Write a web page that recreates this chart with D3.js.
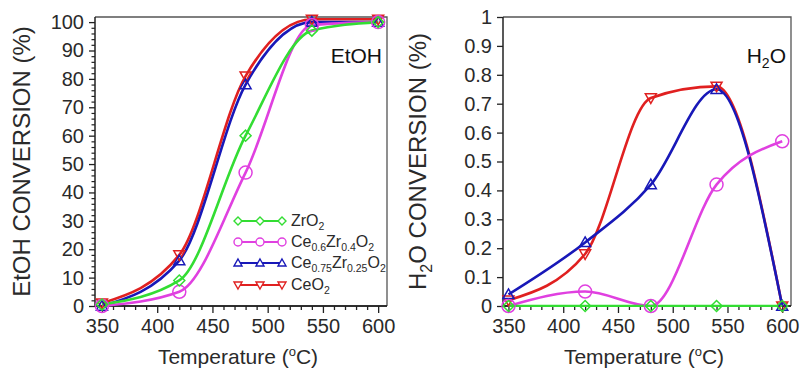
<!DOCTYPE html>
<html>
<head>
<meta charset="utf-8">
<script src="https://cdn.jsdelivr.net/npm/d3@7"></script>
<style>
  html, body { margin: 0; padding: 0; background: #fff; }
  svg { display: block; font-family: "Liberation Sans", Arial, sans-serif; }
</style>
</head>
<body>
<svg id="chart" width="800" height="370"></svg>
<script>
// ---------------- DATA ----------------
const temperatures = [350, 420, 480, 540, 600];
const seriesKeys = ["ZrO2", "Ce0.6Zr0.4O2", "Ce0.75Zr0.25O2", "CeO2"];

// EtOH conversion (%)
const etohZrO2       = [0.5, 9, 60, 97, 100];
const etohCe06Zr04   = [0, 5, 47, 99, 100];
const etohCe075Zr025 = [0, 16, 78, 100, 100];
const etohCeO2       = [1, 18, 81, 101, 101];

// H2O conversion (%)
const h2oZrO2       = [0, 0, 0, 0, 0];
const h2oCe06Zr04   = [0, 0.05, 0, 0.42, 0.57];
const h2oCe075Zr025 = [0.04, 0.22, 0.42, 0.75, 0];
const h2oCeO2       = [0.02, 0.18, 0.72, 0.76, 0];

const xTicks = [350, 400, 450, 500, 550, 600];
const etohTicks = [0, 10, 20, 30, 40, 50, 60, 70, 80, 90, 100];
const h2oTicks = [0, 0.1, 0.2, 0.3, 0.4, 0.5, 0.6, 0.7, 0.8, 0.9, 1];
const h2oTickLabels = ["0", "0.1", "0.2", "0.3", "0.4", "0.5", "0.6", "0.7", "0.8", "0.9", "1"];

// legend labels: [text, isSubscript]
const legendLabels = [
  [["ZrO", false], ["2", true]],
  [["Ce", false], ["0.6", true], ["Zr", false], ["0.4", true], ["O", false], ["2", true]],
  [["Ce", false], ["0.75", true], ["Zr", false], ["0.25", true], ["O", false], ["2", true]],
  [["CeO", false], ["2", true]]
];

// ---------------- STYLE ----------------
const colors = { "ZrO2": "#33dd33", "Ce0.6Zr0.4O2": "#e040e0", "Ce0.75Zr0.25O2": "#1818b8", "CeO2": "#e02020" };
const symbols = { "ZrO2": "diamond", "Ce0.6Zr0.4O2": "circle", "Ce0.75Zr0.25O2": "tri-up", "CeO2": "tri-down" };
const textColor = "#2a2a2a";

const svg = d3.select("#chart");
svg.append("rect").attr("width", 800).attr("height", 370).attr("fill", "#fff");

function circlePath(r) {
  return `M${-r},0A${r},${r} 0 1,0 ${r},0A${r},${r} 0 1,0 ${-r},0Z`;
}
function symbolPath(type, s) {
  const h = s / 2;
  switch (type) {
    case "diamond": return `M0,${-h}L${h},0L0,${h}L${-h},0Z`;
    case "circle": return circlePath(h);
    case "tri-up": return `M0,${-h}L${h},${h * 0.75}L${-h},${h * 0.75}Z`;
    case "tri-down": return `M0,${h}L${h},${-h * 0.75}L${-h},${-h * 0.75}Z`;
  }
}

function drawPanel(cfg) {
  const { x0, x1, y0, y1, xDomain, yDomain, data, yTicks, yLabels, yMinor, title, label, clipId } = cfg;
  const x = d3.scaleLinear().domain(xDomain).range([x0, x1]);
  const y = d3.scaleLinear().domain(yDomain).range([y1, y0]);
  const g = svg.append("g");

  g.append("clipPath").attr("id", clipId)
    .append("rect").attr("x", x0).attr("y", y0 - 1).attr("width", x1 - x0).attr("height", y1 - y0 + 2);

  // frame top / right
  g.append("path")
    .attr("d", `M${x0},${y0}L${x1},${y0}L${x1},${y1}`)
    .attr("fill", "none").attr("stroke", "#555").attr("stroke-width", 1.3);

  // x axis
  const xMinor = d3.range(350, 601, 10).filter(v => v % 50 !== 0);
  const xAxisMinor = d3.axisBottom(x).tickValues(xMinor).tickSize(4).tickFormat("");
  const xAxis = d3.axisBottom(x).tickValues(xTicks).tickSize(7).tickPadding(6).tickFormat(d3.format("d"));
  const gxm = g.append("g").attr("transform", `translate(0,${y1})`).call(xAxisMinor);
  const gx = g.append("g").attr("transform", `translate(0,${y1})`).call(xAxis);
  [gx, gxm].forEach(a => {
    a.select(".domain").attr("stroke", "#222").attr("stroke-width", 1.5).attr("d", `M${x0},0H${x1}`);
    a.selectAll(".tick line").attr("stroke", "#222").attr("stroke-width", 1.3);
  });
  gx.selectAll(".tick text").attr("fill", textColor).attr("font-size", 20)
    .attr("font-family", "Liberation Sans, Arial, sans-serif");

  // y axis
  if (yMinor) {
    const yAxisMinor = d3.axisLeft(y).tickValues(yMinor).tickSize(3.5).tickFormat("");
    const gym = g.append("g").attr("transform", `translate(${x0},0)`).call(yAxisMinor);
    gym.select(".domain").remove();
    gym.selectAll(".tick line").attr("stroke", "#222").attr("stroke-width", 1.2);
  }
  const yAxis = d3.axisLeft(y).tickValues(yTicks).tickSize(6).tickPadding(5)
    .tickFormat((d, i) => yLabels[i]);
  const gy = g.append("g").attr("transform", `translate(${x0},0)`).call(yAxis);
  gy.select(".domain").attr("stroke", "#222").attr("stroke-width", 1.5).attr("d", `M0,${y0}V${y1}`);
  gy.selectAll(".tick line").attr("stroke", "#222").attr("stroke-width", 1.3);
  gy.selectAll(".tick text").attr("fill", textColor).attr("font-size", 20)
    .attr("font-family", "Liberation Sans, Arial, sans-serif");

  // series lines
  const line = d3.line().x((d, i) => x(temperatures[i])).y(d => y(d)).curve(d3.curveMonotoneX);
  const drawOrder = ["CeO2", "Ce0.75Zr0.25O2", "Ce0.6Zr0.4O2", "ZrO2"];
  const lg = g.append("g").attr("clip-path", `url(#${clipId})`);
  drawOrder.forEach(k => {
    lg.append("path").attr("d", line(data[k])).attr("fill", "none")
      .attr("stroke", colors[k]).attr("stroke-width", 2.6).attr("stroke-linejoin", "round");
  });
  drawOrder.forEach(k => {
    const sz = symbols[k] === "circle" ? 13 : 11;
    g.append("g").selectAll("path").data(data[k]).join("path")
      .attr("transform", (d, i) => `translate(${x(temperatures[i])},${y(d)})`)
      .attr("d", symbolPath(symbols[k], sz))
      .attr("fill", "none").attr("stroke", colors[k]).attr("stroke-width", 1.5);
  });

  // panel label (top right)
  g.append("text").attr("x", x1 - 5).attr("y", y0 + 46).attr("text-anchor", "end")
    .attr("fill", "#111").attr("font-size", 21).call(label);

  // axis titles
  const xt = g.append("text").attr("x", (x0 + x1) / 2 - 3).attr("y", 364).attr("text-anchor", "middle")
    .attr("fill", textColor).attr("font-size", 21);
  xt.append("tspan").text("Temperature (");
  xt.append("tspan").text("o").attr("font-size", 13).attr("dy", -8);
  xt.append("tspan").text("C)").attr("dy", 8);

  const yt = g.append("text")
    .attr("transform", `translate(${cfg.titleX},${(y0 + y1) / 2}) rotate(-90)`)
    .attr("text-anchor", "middle").attr("fill", textColor).attr("font-size", 24);
  title(yt);
  return { x, y };
}

drawPanel({
  x0: 95, x1: 387, y0: 17, y1: 306,
  xDomain: [343.7, 608], yDomain: [0, 101.8],
  data: { "ZrO2": etohZrO2, "Ce0.6Zr0.4O2": etohCe06Zr04, "Ce0.75Zr0.25O2": etohCe075Zr025, "CeO2": etohCeO2 },
  yTicks: etohTicks, yLabels: etohTicks.map(String),
  yMinor: d3.range(0, 101, 2).filter(v => v % 10 !== 0),
  clipId: "clipL", titleX: 30,
  title: t => t.text("EtOH CONVERSION (%)"),
  label: t => t.text("EtOH")
});

drawPanel({
  x0: 503, x1: 791, y0: 17, y1: 306,
  xDomain: [345, 608], yDomain: [0, 1],
  data: { "ZrO2": h2oZrO2, "Ce0.6Zr0.4O2": h2oCe06Zr04, "Ce0.75Zr0.25O2": h2oCe075Zr025, "CeO2": h2oCeO2 },
  yTicks: h2oTicks, yLabels: h2oTickLabels,
  yMinor: null,
  clipId: "clipR", titleX: 426,
  title: t => {
    t.append("tspan").text("H");
    t.append("tspan").text("2").attr("font-size", 16).attr("dy", 6);
    t.append("tspan").text("O CONVERSION (%)").attr("dy", -6);
  },
  label: t => {
    t.append("tspan").text("H");
    t.append("tspan").text("2").attr("font-size", 14).attr("dy", 5);
    t.append("tspan").text("O").attr("dy", -5);
  }
});

// ---------------- LEGEND ----------------
const legend = svg.append("g");
const legRowY = [221, 242, 263, 285];
seriesKeys.forEach((k, i) => {
  const yy = legRowY[i];
  legend.append("line").attr("x1", 238).attr("x2", 282).attr("y1", yy).attr("y2", yy)
    .attr("stroke", colors[k]).attr("stroke-width", 1.8);
  [238, 260, 282].forEach(mx => {
    legend.append("path").attr("transform", `translate(${mx},${yy})`)
      .attr("d", symbolPath(symbols[k], 8))
      .attr("fill", "#fff").attr("stroke", colors[k]).attr("stroke-width", 1.4);
  });
  const t = legend.append("text").attr("x", 291).attr("y", yy + 5).attr("fill", textColor).attr("font-size", 16);
  let shifted = false;
  legendLabels[i].forEach(([s, sub]) => {
    const ts = t.append("tspan").text(s);
    if (sub && !shifted) { ts.attr("font-size", 10.5).attr("dy", 4); shifted = true; }
    else if (!sub && shifted) { ts.attr("dy", -4); shifted = false; }
    else if (sub) { ts.attr("font-size", 10.5); }
  });
});
</script>
</body>
</html>
